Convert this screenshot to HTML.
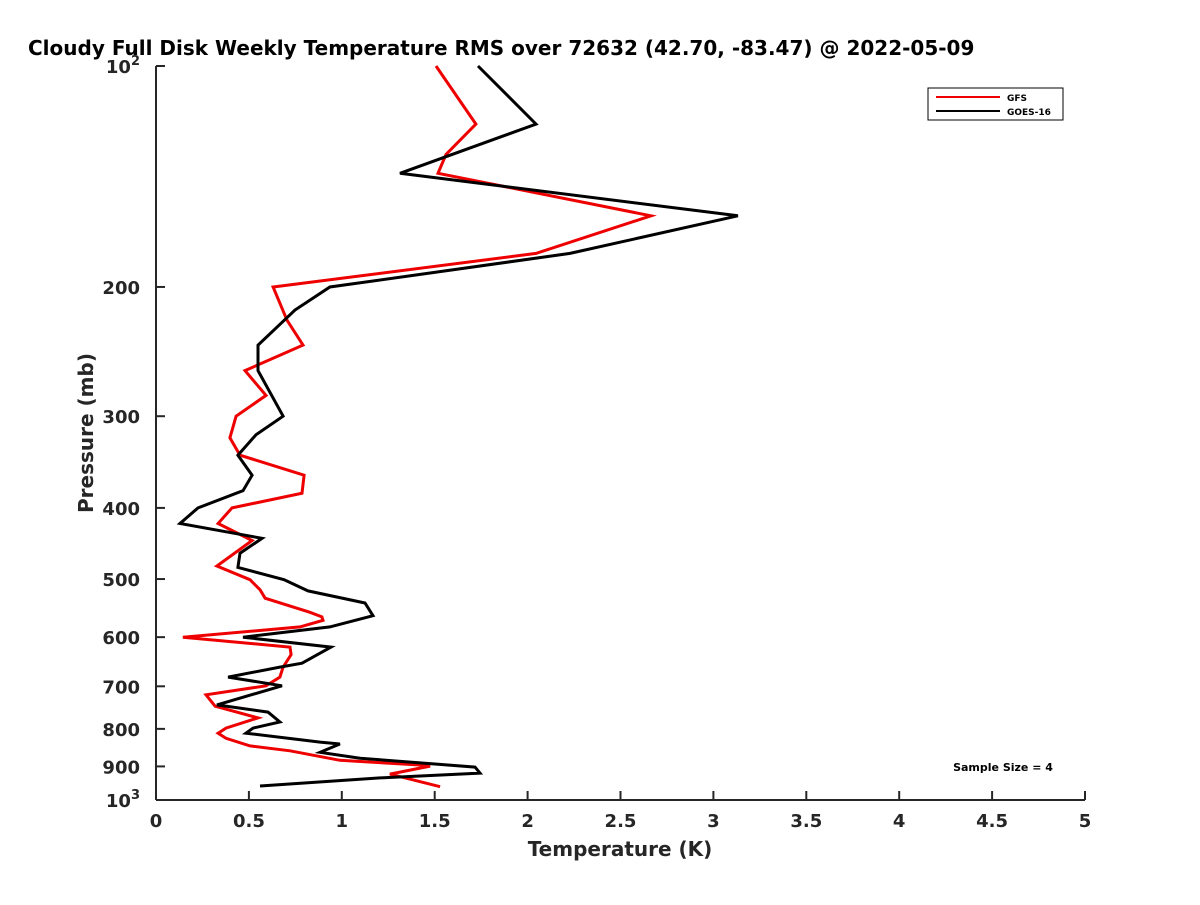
<!DOCTYPE html>
<html><head><meta charset="utf-8"><style>
body{margin:0;background:#fff}
svg text{font-family:"DejaVu Sans","Liberation Sans",sans-serif;font-weight:bold;fill:#262626}
</style></head><body>
<svg id="chart" width="1200" height="900" xmlns="http://www.w3.org/2000/svg">
<rect width="1200" height="900" fill="#fff"/>
<text x="28" y="55" font-size="20" style="fill:#000">Cloudy Full Disk Weekly Temperature RMS over 72632 (42.70, -83.47) @ 2022-05-09</text>
<g id="axes"></g>
<g id="series"></g>
<g>
<rect x="928" y="88" width="135" height="32" fill="#fff" stroke="#000" stroke-width="1"/>
<line x1="936" y1="97" x2="1000" y2="97" stroke="#e00" stroke-width="2"/>
<text x="1007" y="101" font-size="9" style="fill:#000">GFS</text>
<line x1="936" y1="111" x2="1000" y2="111" stroke="#000" stroke-width="2"/>
<text x="1007" y="115" font-size="9" style="fill:#000">GOES-16</text>
</g>
<text x="1003" y="771" font-size="11" text-anchor="middle" style="fill:#000">Sample Size = 4</text>
<text x="620" y="856" font-size="20" text-anchor="middle">Temperature (K)</text>
<text transform="translate(93,433) rotate(-90)" font-size="20" text-anchor="middle">Pressure (mb)</text>
</svg>
<script>
const gfsP=[100,120,132,140,160,180,200,222,240,260,281,300,321,339,361,382,400,420,443,480,501,517,531,555,563,569,581,600,619,634,659,680,699,719,745,773,798,811,824,844,857,883,896,899,922,959];
const gfsT=[1.507,1.722,1.561,1.518,2.664,2.045,0.630,0.705,0.791,0.479,0.592,0.431,0.398,0.452,0.797,0.786,0.409,0.334,0.517,0.328,0.506,0.560,0.587,0.829,0.893,0.899,0.775,0.145,0.721,0.727,0.684,0.667,0.592,0.269,0.318,0.549,0.377,0.334,0.377,0.506,0.721,0.990,1.421,1.475,1.259,1.529];
const goesP=[100,120,140,160,180,200,215,240,260,300,318,339,361,379,400,420,440,461,482,501,519,539,561,581,600,619,651,659,680,699,742,759,783,798,811,834,839,861,877,902,919,933,957];
const goesT=[1.733,2.045,1.313,3.132,2.228,0.936,0.748,0.549,0.549,0.684,0.538,0.441,0.517,0.468,0.226,0.129,0.571,0.452,0.441,0.689,0.818,1.125,1.168,0.936,0.468,0.942,0.786,0.667,0.388,0.678,0.328,0.603,0.667,0.522,0.484,0.883,0.990,0.883,1.098,1.717,1.744,1.206,0.560];
const xTicks=[0,0.5,1,1.5,2,2.5,3,3.5,4,4.5,5];
const xTickLabels=['0','0.5','1','1.5','2','2.5','3','3.5','4','4.5','5'];
const yTicks=[100,200,300,400,500,600,700,800,900,1000];
const yTickLabels=['10|2','200','300','400','500','600','700','800','900','10|3'];
const X0=156,X1=1085,Y0=66,Y1=800;
const xs=t=>X0+(t/5)*(X1-X0);
const ys=p=>Y0+(Math.log10(p)-2)*(Y1-Y0);
const NS='http://www.w3.org/2000/svg';
function mk(tag,attrs,parent){const e=document.createElementNS(NS,tag);for(const k in attrs)e.setAttribute(k,attrs[k]);parent.appendChild(e);return e;}
const ax=document.getElementById('axes');
const xl=mk('line',{x1:X0,y1:Y1,x2:X1,y2:Y1,stroke:'#262626','stroke-width':2},ax);


const yl=mk('line',{x1:X0,y1:Y0,x2:X0,y2:Y1,stroke:'#262626','stroke-width':2},ax);


xTicks.forEach((t,i)=>{
  const tk=mk('line',{x1:xs(t),y1:Y1,x2:xs(t),y2:Y1-9,stroke:'#262626','stroke-width':2},ax);
  
  
  const tx=mk('text',{x:xs(t),y:Y1+27,'font-size':18,'text-anchor':'middle'},ax);
  tx.textContent=xTickLabels[i];
  
  
});
yTicks.forEach((p,i)=>{
  const tk=mk('line',{x1:X0,y1:ys(p),x2:X0+9,y2:ys(p),stroke:'#262626','stroke-width':2},ax);
  
  
  const parts=yTickLabels[i].split('|');
  const tx=mk('text',{x:X0-16,y:ys(p)+7,'font-size':18,'text-anchor':'end'},ax);
  
  
  if(parts.length>1){
    const a=mk('tspan',{},tx);a.textContent=parts[0];
    const b=mk('tspan',{dy:-8,'font-size':13},tx);b.textContent=parts[1];
  } else tx.textContent=parts[0];
});
const sg=document.getElementById('series');
function line(P,T,color,name){
  const d=P.map((p,i)=>(i?'L':'M')+xs(T[i]).toFixed(1)+','+ys(p).toFixed(1)).join(' ');
  const el=mk('path',{d:d,fill:'none',stroke:color,'stroke-width':3,'stroke-linejoin':'miter'},sg);
  
  
}
line(gfsP,gfsT,'#e00','gfs-line');
line(goesP,goesT,'#000','goes16-line');
</script>
</body></html>
